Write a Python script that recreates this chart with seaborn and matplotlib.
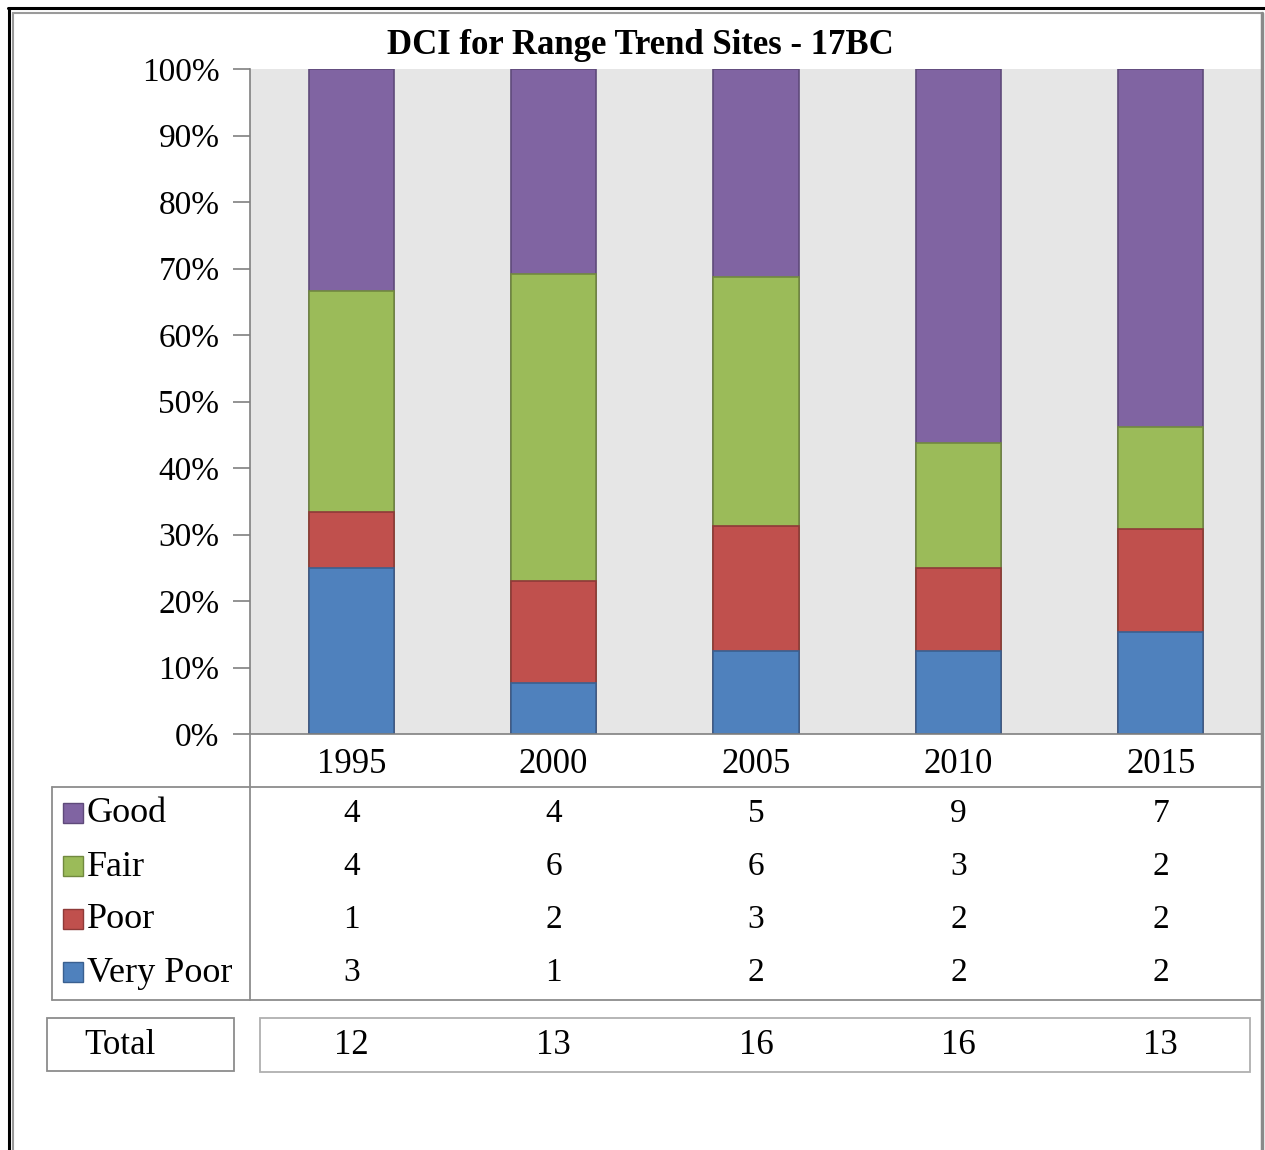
import numpy as np
import pandas as pd
import matplotlib
matplotlib.use("Agg")
import matplotlib.pyplot as plt
import seaborn as sns
from matplotlib.patches import Rectangle
from matplotlib.transforms import blended_transform_factory

# data
years = ["1995", "2000", "2005", "2010", "2015"]
good = [4, 4, 5, 9, 7]
fair = [4, 6, 6, 3, 2]
poor = [1, 2, 3, 2, 2]
very_poor = [3, 1, 2, 2, 2]
categories = ["Good", "Fair", "Poor", "Very Poor"]

colors = {"Good": "#8064A2", "Fair": "#9BBB59", "Poor": "#C0504D", "Very Poor": "#4F81BD"}
edges = {"Good": "#5F4A7A", "Fair": "#71893F", "Poor": "#8E3A38", "Very Poor": "#3A6090"}

counts = pd.DataFrame({"Good": good, "Fair": fair, "Poor": poor, "Very Poor": very_poor}, index=years)
totals = counts.sum(axis=1)
pct = counts.div(totals, axis=0) * 100

sns.set_style("white")
plt.rcParams["font.family"] = ["Liberation Serif", "DejaVu Serif"]
plt.rcParams["text.color"] = "black"
plt.rcParams["xtick.color"] = "black"
plt.rcParams["ytick.color"] = "black"

W, H = 1265, 1150
fig = plt.figure(figsize=(W / 100, H / 100), dpi=100)

# main plot area (pixel box 250..1262 x 69..734)
ax = fig.add_axes([250 / W, 1 - 734 / H, 1012 / W, 665 / H])
ax.set_facecolor("#E6E6E6")

# stacked bars: draw cumulative heights from the top segment down
stack_order = ["Very Poor", "Poor", "Fair", "Good"]
cum = pct[stack_order].cumsum(axis=1)
for cat in reversed(stack_order):
    sns.barplot(x=years, y=cum[cat].values, color=colors[cat], width=0.42,
                edgecolor=edges[cat], linewidth=1.2, saturation=1, ax=ax)

ax.set_xlim(-0.5, 4.5)
ax.set_ylim(0, 100)
ax.set_yticks(np.arange(0, 101, 10))
ax.set_yticklabels([f"{v}%" for v in range(0, 101, 10)], fontsize=24)
ax.tick_params(axis="y", left=True, length=12, width=1.2, color="#808080",
               labelcolor="black", pad=10)
ax.tick_params(axis="x", bottom=False, length=0, pad=10, labelsize=25, labelcolor="black")
for s in ["top", "right"]:
    ax.spines[s].set_visible(False)
for s in ["left", "bottom"]:
    ax.spines[s].set_color("#808080")
    ax.spines[s].set_linewidth(1.2)
ax.set_xlabel("")
ax.set_ylabel("")

# overlay in pixel coordinates for table, legend keys and frame
ov2 = fig.add_axes([0, 0, 1, 1])
ov2.set_xlim(0, W)
ov2.set_ylim(H, 0)
ov2.axis("off")
ov2.patch.set_alpha(0)

gray = "#8C8C8C"
# outer frame
ov2.plot([8, 1265], [8, 8], color="black", lw=2.2)
ov2.plot([9, 9], [8, 1150], color="black", lw=2.2)
ov2.plot([13, 1262], [13, 13], color="#9A9A9A", lw=1.5)
ov2.plot([13, 13], [13, 1150], color="#9A9A9A", lw=1.5)
ov2.plot([1262, 1262], [13, 1150], color="#8A8A8A", lw=2.5)

# data table grid
ov2.plot([250, 250], [734, 1000], color=gray, lw=1.3)
ov2.plot([52, 1262], [787, 787], color=gray, lw=1.3)
ov2.plot([52, 1262], [1000, 1000], color=gray, lw=1.3)
ov2.plot([52, 52], [787, 1000], color=gray, lw=1.3)

# total boxes
ov2.add_patch(Rectangle((47, 1018), 187, 53, fill=False, edgecolor=gray, lw=1.3))
ov2.add_patch(Rectangle((260, 1018), 990, 54, fill=False, edgecolor="#B0B0B0", lw=1.3))

# title
ov2.text(640, 45, "DCI for Range Trend Sites - 17BC", ha="center", va="center",
         fontsize=25, fontweight="bold")

# table rows
trans = blended_transform_factory(ax.transData, ov2.transData)
row_y = [814, 867, 920, 973]
for cat, y in zip(categories, row_y):
    ov2.add_patch(Rectangle((63, y - 11), 20, 20, facecolor=colors[cat],
                            edgecolor=edges[cat], lw=1.0))
    ov2.text(87, y, cat, ha="left", va="center", fontsize=26)
    for i, v in enumerate(counts[cat].values):
        ov2.text(i, y, str(v), ha="center", va="center", fontsize=24, transform=trans)

ov2.text(120, 1046, "Total", ha="center", va="center", fontsize=25)
for i, t in enumerate(totals.values):
    ov2.text(i, 1046, str(t), ha="center", va="center", fontsize=25, transform=trans)

fig.savefig("out.png", dpi=100, facecolor="white")
